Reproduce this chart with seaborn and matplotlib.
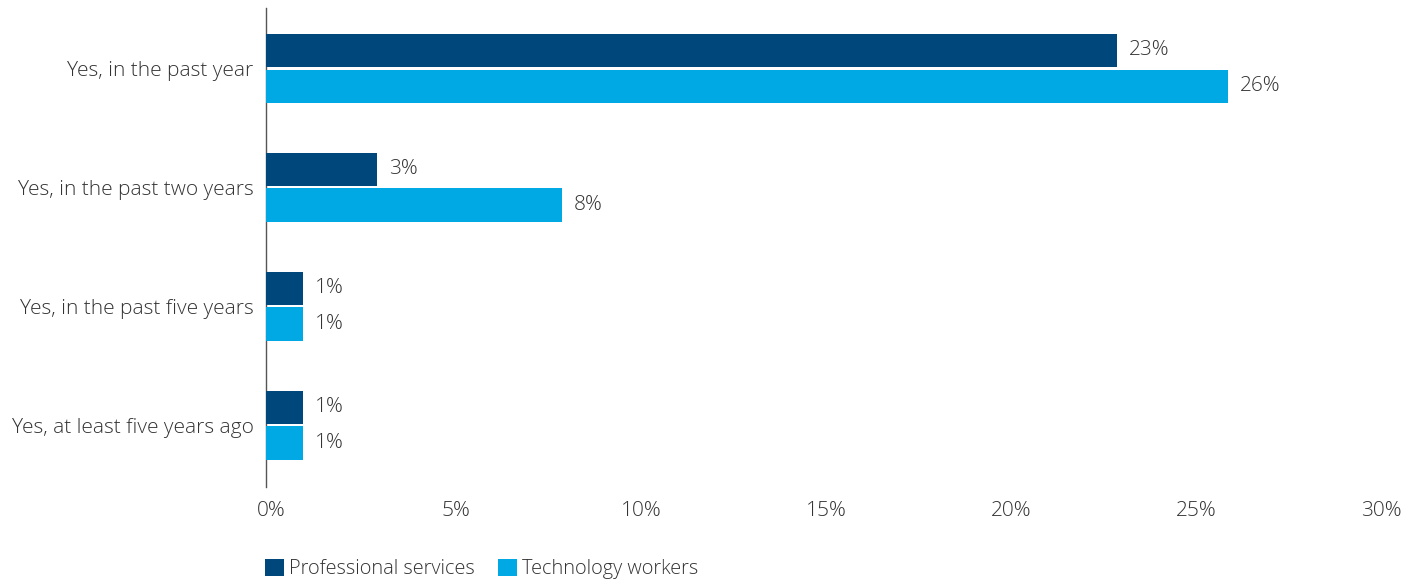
import matplotlib
matplotlib.use("Agg")
import matplotlib.pyplot as plt
import matplotlib.transforms as mtransforms
from matplotlib.patches import Patch
import seaborn as sns
import pandas as pd

categories = [
    "Yes, in the past year",
    "Yes, in the past two years",
    "Yes, in the past five years",
    "Yes, at least five years ago",
]
series = ["Professional services", "Technology workers"]
professional = [23, 3, 1, 1]
technology = [26, 8, 1, 1]
x_ticks = [0, 5, 10, 15, 20, 25, 30]
x_tick_labels = ["0%", "5%", "10%", "15%", "20%", "25%", "30%"]
colors = ["#00487C", "#00A9E3"]

df = pd.DataFrame({
    "category": categories * 2,
    "group": [series[0]] * 4 + [series[1]] * 4,
    "value": professional + technology,
})

sns.set_theme(style="white")
plt.rcParams["font.family"] = ["Open Sans", "DejaVu Sans"]
text_color = "#333333"
fs = 15

fig = plt.figure(figsize=(14.2, 5.85), dpi=100)
ax = fig.add_axes([0.1873, 0.1675, 0.969 - 0.1873, 0.986 - 0.1675])

sns.barplot(data=df, x="value", y="category", hue="group", order=categories,
            hue_order=series, palette=colors, width=0.6, gap=0.07,
            orient="h", ax=ax, legend=False, saturation=1, linewidth=0)

for cont in ax.containers:
    ax.bar_label(cont, labels=[f"{v:.0f}%" for v in cont.datavalues],
                 padding=8.5, fontsize=fs, color=text_color, fontweight=300)

ax.set_xlim(0, 30)
ax.set_ylim(3.52, -0.505)
ax.set_xticks(x_ticks)
ax.set_xticklabels(x_tick_labels, fontsize=fs, color=text_color, fontweight=300)
ax.set_ylabel("")
ax.set_xlabel("")
ax.tick_params(axis="y", length=0, pad=9, labelsize=fs, labelcolor=text_color)
ax.tick_params(axis="x", length=0, pad=10)
for lab in ax.get_yticklabels():
    lab.set_fontweight(300)
shift = mtransforms.ScaledTranslation(5 / 100, 0, fig.dpi_scale_trans)
for lab in ax.get_xticklabels():
    lab.set_transform(lab.get_transform() + shift)

for side in ["top", "right", "bottom"]:
    ax.spines[side].set_visible(False)
ax.spines["left"].set_color("#555555")
ax.spines["left"].set_linewidth(1.0)
ax.spines["left"].set_zorder(0.5)

handles = [Patch(facecolor=c, edgecolor="none") for c in colors]
fig.legend(handles, series, loc="center left", bbox_to_anchor=(0.1866, 0.027),
           ncol=2, frameon=False, borderpad=0, borderaxespad=0,
           handlelength=0.95, handleheight=0.9,
           handletextpad=0.25, columnspacing=1.2,
           prop={"size": 14.3, "weight": 300}, labelcolor=text_color)

fig.savefig("out.png", dpi=100)
